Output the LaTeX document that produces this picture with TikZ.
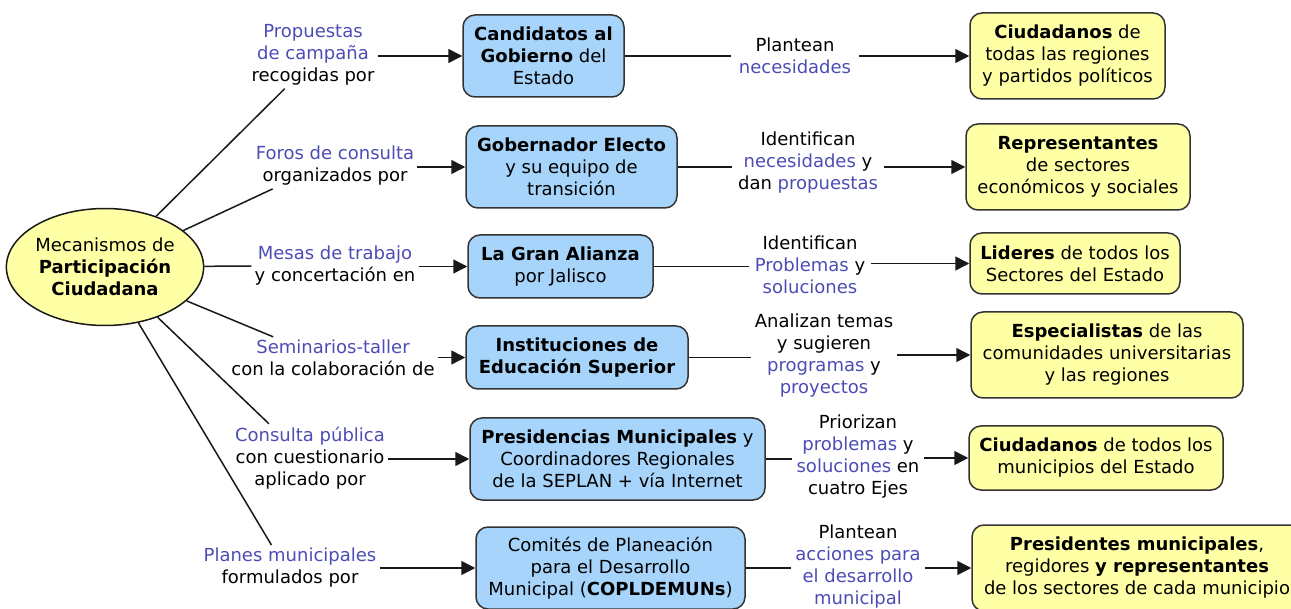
\documentclass[tikz,border=0pt]{standalone}
\usepackage{fontspec}
\setmainfont{DejaVu Sans}
\usetikzlibrary{arrows.meta,shapes.geometric}

\definecolor{azulcaja}{RGB}{166,212,250}
\definecolor{amarillocaja}{RGB}{255,255,166}
\definecolor{azultexto}{RGB}{76,76,180}
\newcommand{\az}[1]{\textcolor{azultexto}{#1}}

\tikzset{
  caja/.style={draw=black!80, line width=1.5pt, rounded corners=12pt, align=center, inner sep=0pt},
  azul/.style={caja, fill=azulcaja},
  amarilla/.style={caja, fill=amarillocaja},
  etiqueta/.style={align=center, inner sep=3pt},
  linea/.style={draw=black!90, line width=1.5pt},
  flecha/.style={linea, -{Triangle[length=14pt,width=14pt]}}
}

\begin{document}
\begin{tikzpicture}[x=1pt,y=-1pt,font=\fontsize{18}{22}\selectfont]
  \useasboundingbox (0,0) rectangle (1291,609);

  % centro
  \node[ellipse, draw=black!90, line width=1.5pt, fill=amarillocaja, minimum width=190pt, minimum height=117pt, align=center, inner sep=0pt] (mec) at (105,267) {Mecanismos de\\ \textbf{Participación}\\ \textbf{Ciudadana}};

  % mecanismos
  \node[etiqueta] (p1) at (313,55) {\az{Propuestas}\\ \az{de campaña}\\ recogidas por};
  \node[etiqueta] (p2) at (335,166) {\az{Foros de consulta}\\ organizados por};
  \node[etiqueta] (p3) at (335,266) {\az{Mesas de trabajo}\\ y concertación en};
  \node[etiqueta] (p4) at (333,358) {\az{Seminarios-taller}\\ con la colaboración de};
  \node[etiqueta] (p5) at (310,458) {\az{Consulta pública}\\ con cuestionario\\ aplicado por};
  \node[etiqueta] (p6) at (290,568) {\az{Planes municipales}\\ formulados por};

  % quienes
  \node[azul, minimum width=161pt, minimum height=82pt] (b1) at (543.5,56) {\textbf{Candidatos al}\\ \textbf{Gobierno} del\\ Estado};
  \node[azul, minimum width=211pt, minimum height=82pt] (b2) at (571.5,167) {\textbf{Gobernador Electo}\\ y su equipo de\\ transición};
  \node[azul, minimum width=185pt, minimum height=63pt] (b3) at (560.5,266.5) {\textbf{La Gran Alianza}\\ por Jalisco};
  \node[azul, minimum width=222pt, minimum height=63pt] (b4) at (577,357.5) {\textbf{Instituciones de}\\ \textbf{Educación Superior}};
  \node[azul, minimum width=295pt, minimum height=82pt] (b5) at (617.5,459) {\textbf{Presidencias Municipales} y\\ Coordinadores Regionales\\ de la SEPLAN + vía Internet};
  \node[azul, minimum width=269pt, minimum height=82pt] (b6) at (610.5,568) {Comités de Planeación\\ para el Desarrollo\\ Municipal (\textbf{COPLDEMUNs})};

  % que hacen
  \node[etiqueta, inner sep=8pt] (r1) at (795,56) {Plantean\\ \az{necesidades}};
  \node[etiqueta, inner sep=6pt] (r2) at (808,163) {Identifican\\ \az{necesidades} y\\ dan \az{propuestas}};
  \node[etiqueta, inner sep=6pt] (r3) at (810,265) {Identifican\\ \az{Problemas} y\\ \az{soluciones}};
  \node[etiqueta, inner sep=4pt] (r4) at (824,356) {Analizan temas\\ y sugieren\\ \az{programas} y\\ \az{proyectos}};
  \node[etiqueta, inner sep=4pt] (r5) at (858,457) {Priorizan\\ \az{problemas} y\\ \az{soluciones} en\\ cuatro Ejes};
  \node[etiqueta, inner sep=4pt] (r6) at (858,567) {Plantean\\ \az{acciones para}\\ \az{el desarrollo}\\ \az{municipal}};

  % participantes
  \node[amarilla, minimum width=195pt, minimum height=86pt] (y1) at (1067.5,56) {\textbf{Ciudadanos} de\\ todas las regiones\\ y partidos políticos};
  \node[amarilla, minimum width=224pt, minimum height=86pt] (y2) at (1078,167) {\textbf{Representantes}\\ de sectores\\ económicos y sociales};
  \node[amarilla, minimum width=210pt, minimum height=61pt] (y3) at (1075,263.5) {\textbf{Lideres} de todos los\\ Sectores del Estado};
  \node[amarilla, minimum width=272pt, minimum height=86pt] (y4) at (1107,355) {\textbf{Especialistas} de las\\ comunidades universitarias\\ y las regiones};
  \node[amarilla, minimum width=254pt, minimum height=64pt] (y5) at (1096,458) {\textbf{Ciudadanos} de todos los\\ municipios del Estado};
  \node[amarilla, minimum width=330pt, minimum height=86pt] (y6) at (1137,568) {\textbf{Presidentes municipales},\\ regidores \textbf{y representantes}\\ de los sectores de cada municipio};

  % del centro a cada mecanismo
  \draw[linea] (mec) -- (p1.230);
  \draw[linea] (mec) -- ([xshift=20pt]p2.south west);
  \draw[linea] (mec) -- (p3.west);
  \draw[linea] (mec) -- ([xshift=45pt]p4.north west);
  \draw[linea] (mec) -- ([xshift=37pt]p5.north west);
  \draw[linea] (mec) -- ([xshift=71pt]p6.north west);

  \foreach \i in {1,...,6}{
    \draw[flecha] (p\i.east |- b\i.west) -- (b\i.west);
    \draw[linea] (b\i.east) -- (r\i.west |- b\i.east);
    \draw[flecha] (r\i.east |- y\i.west) -- (y\i.west);
  }
\end{tikzpicture}
\end{document}
